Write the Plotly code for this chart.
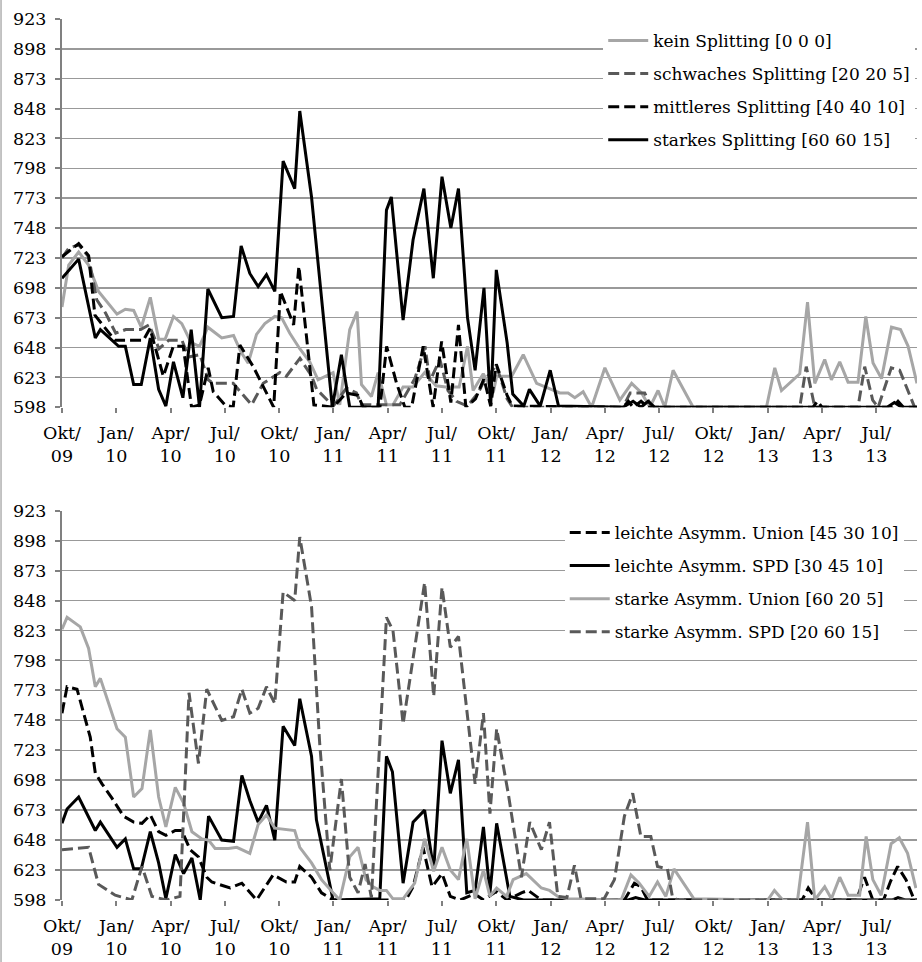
import plotly.graph_objects as go

# x values: months since October 2009 (0 = Okt/09, 3 = Jan/10, ...)
tick_months = [0, 3, 6, 9, 12, 15, 18, 21, 24, 27, 30, 33, 36, 39, 42, 45]
tick_month_labels = ["Okt/", "Jan/", "Apr/", "Jul/", "Okt/", "Jan/", "Apr/", "Jul/",
                     "Okt/", "Jan/", "Apr/", "Jul/", "Okt/", "Jan/", "Apr/", "Jul/"]
tick_year_labels = ["09", "10", "10", "10", "10", "11", "11", "11",
                    "11", "12", "12", "12", "12", "13", "13", "13"]
y_ticks = [598, 623, 648, 673, 698, 723, 748, 773, 798, 823, 848, 873, 898, 923]

# ---------------- top panel ----------------
kein_x = [0, 0.37, 0.92, 1.47, 2.02, 3.04, 3.5, 3.96, 4.38, 4.88, 5.34, 5.7, 6.16, 6.62, 7.14, 7.6, 8.06, 8.83,
          9.48, 9.9, 10.29, 10.75, 11.21, 11.76, 12.13, 12.59, 13.14, 13.69, 14.15, 14.61, 14.98, 15.35, 15.9,
          16.31, 16.55, 17.1, 17.47, 17.93, 18.29, 18.85, 19.4, 20.04, 20.67, 21.2, 21.95, 22.41, 22.72, 23.28,
          23.83, 24.02, 24.85, 25.49, 26.23, 26.87, 27.51, 27.97, 28.34, 28.8, 29.27, 30.0, 30.83, 31.48, 32.03,
          32.49, 32.94, 33.31, 33.77, 34.88, 38.93, 39.39, 39.76, 40.77, 41.2, 41.6, 42.15, 42.52, 42.98, 43.44,
          43.99, 44.42, 44.82, 45.29, 45.84, 46.34, 46.76, 47.25]
kein_y = [682, 717, 728, 717, 695, 676, 680, 679, 665, 690, 655, 655, 674, 668, 652, 649, 665, 656,
          658, 644, 635, 659, 668, 674, 673, 660, 647, 636, 621, 624, 627, 600, 663,
          678, 617, 607, 627, 600, 600, 615, 615, 627, 616, 615, 615, 649, 612, 626,
          610, 624, 624, 642, 618, 614, 610, 610, 606, 611, 598, 631, 604, 618, 610,
          598, 612, 598, 629, 598, 598, 631, 612, 626, 686, 618, 638, 621, 636, 619,
          619, 674, 635, 622, 665, 663, 649, 618]

schw_x = [0, 0.37, 0.92, 1.47, 1.92, 2.4, 2.97, 3.52, 4.35, 4.81, 5.36, 5.89, 6.63, 7.0, 7.62, 8.08, 8.35,
          9.46, 10.48, 11.12, 12.04, 12.4, 13.15, 13.8, 14.07, 14.99, 15.72, 16.27, 16.55, 17.19, 17.67, 18.67,
          19.5, 20.06, 20.33, 20.88, 21.33, 21.8, 22.41, 23.0, 23.32, 24.0, 24.6, 24.9, 31.0, 31.4, 32.2, 32.6,
          40.77, 41.13, 41.6, 43.99, 44.36, 44.8, 45.1, 45.83, 46.29, 47.12, 47.25]
schw_y = [723, 731, 734, 724, 688, 677, 660, 663, 663, 667, 647, 654, 654, 640, 642, 621, 618,
          618, 600, 618, 627, 624, 639, 624, 613, 599, 614, 610, 600, 600, 600, 600,
          622, 649, 620, 638, 612, 603, 599, 610, 620, 633, 605, 598, 598, 610, 610, 598,
          598, 632, 598, 598, 632, 604, 598, 631, 629, 598, 598]

mitt_x = [0, 0.92, 1.47, 1.82, 2.93, 4.49, 4.86, 5.6, 6.15, 6.7, 7.16, 7.6, 8.08, 8.36, 9.0, 9.46, 9.83,
          10.57, 11.7, 12.07, 12.8, 13.09, 13.92, 14.99, 15.71, 16.35, 16.65, 17.57, 17.94, 18.49, 18.95,
          19.32, 19.96, 20.51, 20.98, 21.49, 21.91, 22.32, 22.85, 23.32, 23.69, 24.0, 24.6, 24.88, 31.0,
          31.3, 31.56, 32.0, 32.39, 41.5, 41.75, 42.0, 45.9, 46.2, 46.5, 47.25]
mitt_y = [724, 735, 725, 675, 654, 654, 664, 624, 649, 649, 598, 600, 631, 611, 600, 598, 650,
          632, 598, 695, 667, 716, 600, 598, 610, 608, 598, 598, 649, 618, 598,
          598, 649, 598, 653, 602, 667, 598, 605, 622, 599, 634, 608, 599, 598,
          603, 598, 603, 598, 598, 603, 598, 598, 603, 598, 598]

stark_x = [0, 0.92, 1.84, 2.12, 3.13, 3.5, 3.96, 4.38, 4.88, 5.34, 5.74, 6.16, 6.68, 7.14, 7.6, 8.06, 8.83,
           9.48, 9.9, 10.38, 10.84, 11.3, 11.76, 12.22, 12.86, 13.14, 13.79, 14.94, 15.44, 15.9, 17.47, 17.93,
           18.2, 18.85, 19.4, 20.0, 20.52, 21.0, 21.49, 21.91, 22.41, 22.83, 23.32, 23.69, 24.0, 24.6, 24.91,
           25.52, 25.83, 26.43, 26.98, 27.44, 31.0, 31.56, 32.0, 32.39, 32.76, 45.6, 46.0, 46.4, 47.25]
stark_y = [706, 722, 656, 663, 649, 649, 617, 617, 656, 613, 599, 636, 606, 663, 598, 697, 673,
           674, 733, 710, 699, 709, 695, 804, 781, 846, 774, 598, 642, 598, 598, 763,
           774, 671, 738, 781, 706, 791, 748, 781, 673, 629, 698, 599, 713, 652, 609,
           599, 613, 599, 629, 599, 598, 603, 598, 603, 598, 598, 602, 598, 598]

# ---------------- bottom panel ----------------
lu_x = [0, 0.28, 0.83, 1.1, 1.56, 1.84, 2.21, 2.76, 3.4, 3.96, 4.42, 4.88, 5.34, 5.74, 6.26, 6.62, 7.08, 7.54,
        8.0, 8.28, 9.29, 9.94, 10.75, 11.67, 12.4, 12.86, 13.14, 13.79, 14.34, 14.98, 19.0, 19.4, 19.95, 20.45,
        21.0, 21.46, 22.0, 22.8, 23.3, 24.0, 24.6, 25.39, 25.76, 26.49, 31.08, 31.63, 31.99, 32.36, 40.9,
        41.24, 41.7, 43.9, 44.35, 44.81, 45.4, 45.8, 46.18, 46.64, 47.1, 47.25]
lu_y = [754, 776, 774, 760, 734, 704, 695, 683, 668, 663, 662, 669, 655, 652, 656, 656, 640, 634,
        617, 613, 608, 612, 598, 619, 613, 613, 626, 617, 604, 598, 598, 609, 642, 609,
        620, 601, 598, 603, 598, 605, 598, 604, 606, 598, 598, 612, 609, 598, 598,
        608, 598, 598, 617, 598, 598, 614, 626, 615, 598, 598]

ls_x = [0, 0.28, 0.92, 1.84, 2.12, 3.04, 3.5, 3.96, 4.38, 4.88, 5.34, 5.74, 6.26, 6.72, 7.18, 7.64, 8.1,
        8.83, 9.48, 9.94, 10.38, 10.84, 11.3, 11.76, 12.22, 12.86, 13.14, 13.79, 14.06, 14.98, 17.56, 17.93,
        18.26, 18.85, 19.4, 20.04, 20.54, 21.0, 21.46, 21.91, 22.37, 22.83, 23.29, 23.65, 24.02, 24.75, 25.5,
        31.3, 31.7, 32.2, 45.9, 46.2, 46.6, 47.25]
ls_y = [662, 674, 684, 656, 663, 642, 649, 624, 624, 655, 629, 599, 636, 620, 633, 598, 668,
        648, 647, 702, 681, 663, 677, 648, 743, 727, 766, 718, 665, 598, 599, 718,
        705, 612, 663, 673, 623, 731, 687, 715, 604, 606, 659, 604, 662, 601, 598,
        598, 600, 598, 598, 600, 598, 598]

su_x = [0, 0.28, 1.01, 1.47, 1.84, 2.12, 2.58, 3.04, 3.5, 3.96, 4.42, 4.88, 5.34, 5.74, 6.26, 6.72, 7.18, 7.73,
        8.1, 8.46, 9.2, 9.66, 10.38, 10.84, 11.3, 11.76, 12.86, 13.14, 13.79, 14.34, 14.98, 15.35, 15.9, 16.36,
        16.8, 17.19, 17.56, 17.93, 18.29, 18.85, 19.49, 20.04, 20.54, 21.0, 21.46, 21.91, 22.37, 22.83, 23.29,
        23.65, 24.02, 24.57, 24.93, 25.66, 26.49, 26.94, 27.4, 27.95, 30.9, 31.44, 31.9, 32.45, 32.91, 33.37,
        33.82, 34.92, 39.0, 39.37, 39.83, 40.65, 41.2, 41.6, 42.15, 42.52, 42.98, 43.44, 44.08, 44.44, 44.81,
        45.27, 45.82, 46.27, 46.73, 47.19]
su_y = [824, 834, 826, 808, 776, 783, 762, 741, 734, 684, 691, 740, 684, 659, 692, 679, 655, 649,
        648, 641, 641, 642, 637, 661, 669, 658, 656, 642, 629, 615, 604, 598, 634, 642,
        615, 609, 606, 606, 599, 599, 612, 649, 622, 642, 623, 615, 649, 599, 623,
        601, 608, 601, 615, 620, 608, 606, 601, 599, 598, 619, 612, 601, 613, 601,
        624, 599, 598, 606, 598, 598, 663, 598, 609, 599, 617, 602, 602, 651, 615,
        602, 645, 650, 637, 608]

ss_x = [0, 1.47, 2.02, 2.94, 3.86, 4.42, 4.97, 5.78, 6.52, 7.02, 7.54, 8.0, 8.83, 9.48, 9.94, 10.38, 10.84,
        11.3, 11.76, 12.22, 12.86, 13.14, 13.79, 14.24, 14.8, 15.44, 15.9, 16.36, 16.75, 17.1, 17.93, 18.29,
        18.85, 19.4, 20.04, 20.54, 21.0, 21.46, 21.91, 22.83, 23.29, 23.65, 24.02, 24.66, 25.39, 25.85, 26.49,
        26.94, 27.4, 27.9, 28.32, 28.68, 29.96, 30.53, 31.08, 31.54, 31.99, 32.54, 32.91, 33.46, 33.73, 34.0,
        47.25]
ss_y = [640, 642, 611, 602, 598, 626, 601, 598, 601, 771, 712, 774, 748, 751, 774, 754, 758,
        776, 762, 855, 848, 901, 843, 729, 623, 699, 617, 604, 628, 600, 834, 823,
        745, 798, 863, 768, 859, 809, 818, 695, 754, 670, 741, 687, 617, 663, 640,
        663, 601, 600, 627, 599, 599, 615, 668, 687, 651, 651, 626, 624, 601, 598,
        598]

LIGHT = "#a6a6a6"
DARK = "#595959"
DASH = "11px,5px"
FONT = "DejaVu Serif"
FS = 17.5
LFS = 17

fig = go.Figure()

def add(x, y, name, color, dash, xa, ya, legend):
    fig.add_trace(go.Scatter(x=x, y=y, name=name, mode="lines", xaxis=xa, yaxis=ya, legend=legend,
                             legendgroup=name,
                             line=dict(color=color, width=3, dash=dash), hoverinfo="skip"))

add(kein_x, kein_y, "kein Splitting [0 0 0]", LIGHT, "solid", "x", "y", "legend")
add(schw_x, schw_y, "schwaches Splitting [20 20 5]", DARK, DASH, "x", "y", "legend")
add(mitt_x, mitt_y, "mittleres Splitting [40 40 10]", "#000000", DASH, "x", "y", "legend")
add(stark_x, stark_y, "starkes Splitting [60 60 15]", "#000000", "solid", "x", "y", "legend")

add(lu_x, lu_y, "leichte Asymm. Union [45 30 10]", "#000000", DASH, "x2", "y2", "legend2")
add(ls_x, ls_y, "leichte Asymm. SPD [30 45 10]", "#000000", "solid", "x2", "y2", "legend2")
add(su_x, su_y, "starke Asymm. Union [60 20 5]", LIGHT, "solid", "x2", "y2", "legend2")
add(ss_x, ss_y, "starke Asymm. SPD [20 60 15]", DARK, DASH, "x2", "y2", "legend2")

# empty traces so the year-label axes exist
fig.add_trace(go.Scatter(x=[], y=[], xaxis="x3", yaxis="y", showlegend=False, hoverinfo="skip"))
fig.add_trace(go.Scatter(x=[], y=[], xaxis="x4", yaxis="y2", showlegend=False, hoverinfo="skip"))

tickfont = dict(family=FONT, size=FS, color="#000")
xmonth = dict(range=[0, 47.25], tickmode="array", tickvals=tick_months, ticktext=tick_month_labels,
              showgrid=False, zeroline=False, showline=False, ticks="outside", ticklen=5,
              tickcolor="#808080", tickwidth=2, ticklabelstandoff=5, tickfont=tickfont)
xyear = dict(range=[0, 47.25], tickmode="array", tickvals=tick_months, ticktext=tick_year_labels,
             showgrid=False, zeroline=False, showline=False, ticks="outside", ticklen=28,
             tickcolor="rgba(0,0,0,0)", tickwidth=1, ticklabelstandoff=5, tickfont=tickfont, side="bottom")
ycommon = dict(range=[598, 923], tickmode="array", tickvals=y_ticks, showgrid=True,
               gridcolor="#999999", gridwidth=1.5, zeroline=False, showline=True, linecolor="#808080",
               linewidth=2, ticks="outside", ticklen=5, tickcolor="#808080", tickwidth=2,
               ticklabelstandoff=5, tickfont=tickfont)

legend_font = dict(family=FONT, size=LFS, color="#000")
fig.update_layout(
    template="none",
    width=922, height=962,
    margin=dict(l=62, r=5, t=19, b=62),
    paper_bgcolor="white", plot_bgcolor="white",
    font=dict(family=FONT, size=FS, color="#000"),
    xaxis=dict(xmonth, anchor="y"),
    xaxis3=dict(xyear, anchor="y", overlaying="x"),
    yaxis=dict(ycommon, domain=[0.5593, 1.0], anchor="x"),
    xaxis2=dict(xmonth, anchor="y2"),
    xaxis4=dict(xyear, anchor="y2", overlaying="x2"),
    yaxis2=dict(ycommon, domain=[0.0, 0.4419], anchor="x2"),
    legend=dict(x=0.633, y=0.9955, xanchor="left", yanchor="top", bgcolor="white",
                font=legend_font, itemwidth=40, traceorder="grouped", tracegroupgap=8),
    legend2=dict(x=0.588, y=0.4371, xanchor="left", yanchor="top", bgcolor="white",
                 font=legend_font, itemwidth=40, traceorder="grouped", tracegroupgap=8),
    showlegend=True,
    hovermode=False,
    shapes=[
        dict(type="line", xref="paper", yref="paper", x0=-0.0713, x1=-0.0713, y0=-0.0704, y1=1.0216,
             line=dict(color="#b0b0b0", width=1.5)),
        dict(type="rect", xref="paper", yref="paper", x0=0.606, x1=1.0, y0=0.840, y1=0.9932,
             layer="between", fillcolor="white", line=dict(width=0)),
        dict(type="rect", xref="paper", yref="paper", x0=0.551, x1=1.0, y0=0.286, y1=0.4359,
             layer="between", fillcolor="white", line=dict(width=0)),
    ],
)

fig.write_html("out.html", config={"displayModeBar": False, "staticPlot": True},
               post_script="document.body.style.margin='0';document.body.style.overflow='hidden';")
